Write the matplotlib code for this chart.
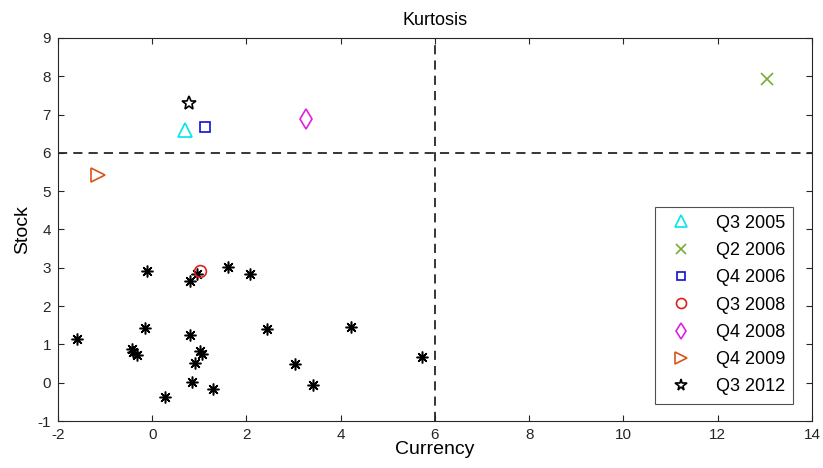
import matplotlib.pyplot as plt

plt.rcParams['font.family'] = ['Liberation Sans', 'DejaVu Sans']
plt.rcParams['axes.unicode_minus'] = False

# other quarters (black asterisks)
other_x = [-1.60, -0.44, -0.41, -0.32, -0.16, -0.11, 0.26, 0.81, 0.81, 0.85, 0.91,
           0.96, 1.02, 1.05, 1.28, 1.60, 2.07, 2.43, 3.04, 3.42, 4.22, 5.73]
other_y = [1.13, 0.88, 0.80, 0.72, 1.44, 2.91, -0.37, 2.65, 1.24, 0.02, 0.52,
           2.83, 0.83, 0.76, -0.17, 3.02, 2.83, 1.41, 0.50, -0.05, 1.46, 0.67]

# highlighted quarters
labels = ["Q3 2005", "Q2 2006", "Q4 2006", "Q3 2008", "Q4 2008", "Q4 2009", "Q3 2012"]
hx = [0.70, 13.04, 1.12, 1.02, 3.27, -1.15, 0.79]
hy = [6.60, 7.93, 6.68, 2.91, 6.88, 5.42, 7.30]
markers = ["^", "x", "s", "o", "d", ">", "*"]
colors = ["#00E5EE", "#77AC30", "#1010D0", "#E02020", "#E020E0", "#D95319", "#000000"]
sizes = [10, 9, 7.5, 8.5, 10, 10, 10]

fig = plt.figure(figsize=(8.23, 4.68), dpi=100)
ax = fig.add_axes([0.0705, 0.1004, 0.916, 0.8186])

ax.axvline(6, color="black", linestyle=(0, (6, 4)), linewidth=1.1, zorder=1)
ax.axhline(6, color="black", linestyle=(0, (6, 4)), linewidth=1.1, zorder=1)

ax.plot(other_x, other_y, linestyle="none", marker=(8, 2, 0), markersize=8.5,
        markeredgecolor="black", markeredgewidth=1.1, zorder=2)
ax.plot(other_x, other_y, linestyle="none", marker="s", markersize=2.5,
        color="black", zorder=2)

for x, y, m, c, s, lab in zip(hx, hy, markers, colors, sizes, labels):
    ax.plot([x], [y], linestyle="none", marker=m, markersize=s,
            markerfacecolor="none", markeredgecolor=c, markeredgewidth=1.2,
            label=lab, zorder=3)

ax.set_xlim(-2, 14)
ax.set_ylim(-1, 9)
ax.set_xticks(range(-2, 15, 2))
ax.set_yticks(range(-1, 10))
ax.tick_params(direction="in", length=4, labelsize=11, colors="#262626",
               top=True, right=True, pad=5)
for sp in ax.spines.values():
    sp.set_color("#262626")
    sp.set_linewidth(0.8)

ax.set_title("Kurtosis", fontsize=13, pad=9)
ax.set_xlabel("Currency", fontsize=14, labelpad=-1)
ax.set_ylabel("Stock", fontsize=14, labelpad=5)

leg = ax.legend(loc="lower right", fontsize=13, frameon=True, fancybox=False,
                edgecolor="#262626", handletextpad=0.9, borderpad=0.45,
                labelspacing=0.57, markerscale=0.85, bbox_to_anchor=(0.987, 0.022))
leg.get_frame().set_linewidth(0.8)

fig.savefig("out.png", dpi=100)
